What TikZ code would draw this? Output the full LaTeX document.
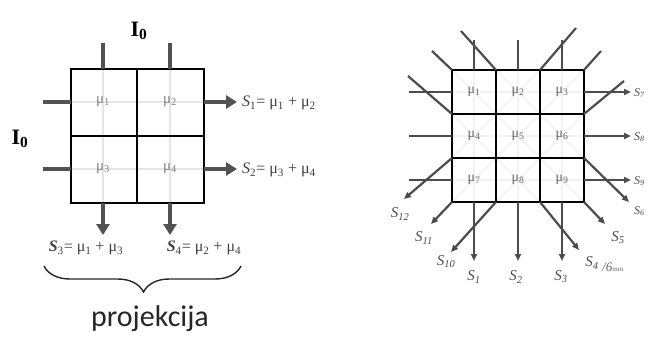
\documentclass[tikz,border=0pt]{standalone}
\usepackage{fontspec}
\setmainfont{Liberation Serif}
\newfontfamily\projfont{Carlito}
\usetikzlibrary{arrows.meta,decorations.pathreplacing}
\begin{document}
\begin{tikzpicture}[x=1pt,y=-1pt,
  gridline/.style={line width=2.3pt,black},
  faint/.style={line width=2.5pt,black!10},
  faintR/.style={line width=1.6pt,black!5},
  beamL/.style={line width=4pt,black!68},
  arrL/.style={beamL,-{Triangle[length=11pt,width=13pt]}},
  beamR/.style={line width=2.2pt,black!70},
  arrR/.style={beamR,-{Triangle[length=7pt,width=6pt]}},
  eqlabel/.style={font=\fontsize{16}{16}\selectfont, text=black!75, inner sep=0pt},
  cellL/.style={font=\fontsize{15}{15}\selectfont, text=black!50, inner sep=0pt},
  cellR/.style={font=\fontsize{14}{14}\selectfont, text=black!60, inner sep=0pt},
  slabel/.style={font=\fontsize{15}{15}\selectfont\itshape, text=black!70, inner sep=0pt},
  elabel/.style={font=\fontsize{12}{12}\selectfont\itshape, text=black!70, inner sep=0pt, anchor=west},
  ilabel/.style={font=\fontsize{22}{22}\selectfont\bfseries, inner sep=0pt}
]
\useasboundingbox (0,0) rectangle (649,340);

% ================= LEFT FIGURE =================
\coordinate (LT1) at (103,43);  \coordinate (LT1b) at (103,69);
\coordinate (LT2) at (170,43);  \coordinate (LT2b) at (170,69);
\coordinate (LB1) at (103,203); \coordinate (LB1e) at (103,235);
\coordinate (LB2) at (170,203); \coordinate (LB2e) at (170,235);
\coordinate (LL1) at (43,102);  \coordinate (LL1b) at (71,102);
\coordinate (LL2) at (43,169);  \coordinate (LL2b) at (71,169);
\coordinate (LR1) at (204,102); \coordinate (LR1e) at (237,102);
\coordinate (LR2) at (204,169); \coordinate (LR2e) at (237,169);

\draw[faint] (LT1b) -- (LB1) (LT2b) -- (LB2) (LL1b) -- (LR1) (LL2b) -- (LR2);

% grid
\draw[gridline] (71,69) rectangle (204,203);
\draw[gridline] (137,69) -- (137,203) (71,136) -- (204,136);

% cell labels
\node[cellL] (a1) at (103,102) {μ\textsubscript{1}};
\node[cellL] (a2) at (170,102) {μ\textsubscript{2}};
\node[cellL] (a3) at (103,169) {μ\textsubscript{3}};
\node[cellL] (a4) at (170,169) {μ\textsubscript{4}};

% incoming stubs
\draw[beamL] (LT1) -- (LT1b);
\draw[beamL] (LT2) -- (LT2b);
\draw[beamL] (LL1) -- (LL1b);
\draw[beamL] (LL2) -- (LL2b);
% outgoing arrows
\draw[arrL] (LR1) -- (LR1e);
\draw[arrL] (LR2) -- (LR2e);
\draw[arrL] (LB1) -- (LB1e);
\draw[arrL] (LB2) -- (LB2e);

% I0 labels
\node[ilabel] (i0top) at (139,31) {I\textsubscript{0}};
\node[ilabel] (i0left) at (20,139) {I\textsubscript{0}};

% equations
\node[eqlabel,anchor=west] (s1) at (242,103) {\textit{S}\textsubscript{1}=\ μ\textsubscript{1}\ +\ μ\textsubscript{2}};
\node[eqlabel,anchor=west] (s2) at (242,170) {\textit{S}\textsubscript{2}=\ μ\textsubscript{3}\ +\ μ\textsubscript{4}};
\node[eqlabel] (s3) at (86,248) {\textbf{\textit{S}}\textsubscript{3}=\ μ\textsubscript{1}\ +\ μ\textsubscript{3}};
\node[eqlabel] (s4) at (204,248) {\textbf{\textit{S}}\textsubscript{4}=\ μ\textsubscript{2}\ +\ μ\textsubscript{4}};

% brace
\coordinate (brA) at (44,266);
\coordinate (brB) at (241,266);
\draw[line width=1.4pt,black!85,decorate,decoration={brace,mirror,amplitude=26pt,aspect=0.505}] (brA) -- (brB);
\node[font=\projfont\fontsize{30}{30}\selectfont, text=black!85, inner sep=0pt] (proj) at (150,319) {projekcija};

% ================= RIGHT FIGURE =================
\draw[faintR] (474,70) -- (474,202) (518,70) -- (518,202) (562,70) -- (562,202);
\draw[faintR] (452,92) -- (584,92) (452,136) -- (584,136) (452,180) -- (584,180);
\draw[faintR] (496,70) -- (584,158) (452,70) -- (584,202) (452,114) -- (540,202);
\draw[faintR] (540,70) -- (452,158) (584,70) -- (452,202) (584,114) -- (496,202);

% grid
\draw[gridline] (452,70) rectangle (584,202);
\draw[gridline] (496,70) -- (496,202) (540,70) -- (540,202)
                (452,114) -- (584,114) (452,158) -- (584,158);

% cell labels
\node[cellR] (b1) at (474,92)  {μ\textsubscript{1}};
\node[cellR] (b2) at (518,92)  {μ\textsubscript{2}};
\node[cellR] (b3) at (562,92)  {μ\textsubscript{3}};
\node[cellR] (b4) at (474,136) {μ\textsubscript{4}};
\node[cellR] (b5) at (518,136) {μ\textsubscript{5}};
\node[cellR] (b6) at (562,136) {μ\textsubscript{6}};
\node[cellR] (b7) at (474,180) {μ\textsubscript{7}};
\node[cellR] (b8) at (518,180) {μ\textsubscript{8}};
\node[cellR] (b9) at (562,180) {μ\textsubscript{9}};

% vertical beams
\foreach \c/\n in {474/1,518/2,562/3}{
  \coordinate (vt\n) at (\c,40);
  \coordinate (vi\n) at (\c,70);
  \coordinate (vo\n) at (\c,202);
  \coordinate (ve\n) at (\c,261);
  \draw[beamR] (vt\n) -- (vi\n);
  \draw[arrR] (vo\n) -- (ve\n);
}
% horizontal beams
\foreach \r/\n in {92/1,136/2,180/3}{
  \coordinate (hs\n) at (409,\r);
  \coordinate (hi\n) at (452,\r);
  \coordinate (ho\n) at (584,\r);
  \coordinate (he\n) at (631,\r);
  \draw[beamR] (hs\n) -- (hi\n);
  \draw[arrR] (ho\n) -- (he\n);
}
% diagonal beams, down-right
\coordinate (dr1s) at (461,31);  \coordinate (dr1i) at (496,70);  \coordinate (dr1o) at (584,158); \coordinate (dr1e) at (629,202);
\coordinate (dr2s) at (432,51);  \coordinate (dr2i) at (452,70);  \coordinate (dr2o) at (584,202); \coordinate (dr2e) at (605,224);
\coordinate (dr3s) at (408,76);  \coordinate (dr3i) at (452,114); \coordinate (dr3o) at (540,202); \coordinate (dr3e) at (579,250);
% diagonal beams, down-left
\coordinate (dl1s) at (576,28);  \coordinate (dl1i) at (540,70);  \coordinate (dl1o) at (452,158); \coordinate (dl1e) at (404,199);
\coordinate (dl2s) at (601,51);  \coordinate (dl2i) at (584,70);  \coordinate (dl2o) at (452,202); \coordinate (dl2e) at (431,224);
\coordinate (dl3s) at (624,81);  \coordinate (dl3i) at (584,114); \coordinate (dl3o) at (496,202); \coordinate (dl3e) at (451,252);
\foreach \n in {dr1,dr2,dr3,dl1,dl2,dl3}{
  \draw[beamR] (\n s) -- (\n i);
  \draw[arrR] (\n o) -- (\n e);
}

% output labels
\node[slabel] (o1) at (474,277) {S\textsubscript{1}};
\node[slabel] (o2) at (516,277) {S\textsubscript{2}};
\node[slabel] (o3) at (561,277) {S\textsubscript{3}};
\node[slabel] (o12) at (400,214) {S\textsubscript{12}};
\node[slabel] (o11) at (424,238) {S\textsubscript{11}};
\node[slabel] (o10) at (446,262) {S\textsubscript{10}};
\node[slabel] (o4) at (592,263) {S\textsubscript{4}};
\node[font=\fontsize{13}{13}\selectfont\itshape, text=black!60, inner sep=0pt, anchor=west] (scr) at (602,267) {/6{\scriptsize\upshape mm}};
\node[slabel] (o5) at (618,238) {S\textsubscript{5}};
\node[elabel] (o6) at (634,211) {S\textsubscript{6}};
\node[elabel] (o7) at (634,93) {S\textsubscript{7}};
\node[elabel] (o8) at (634,137) {S\textsubscript{8}};
\node[elabel] (o9) at (634,181) {S\textsubscript{9}};
\end{tikzpicture}
\end{document}
